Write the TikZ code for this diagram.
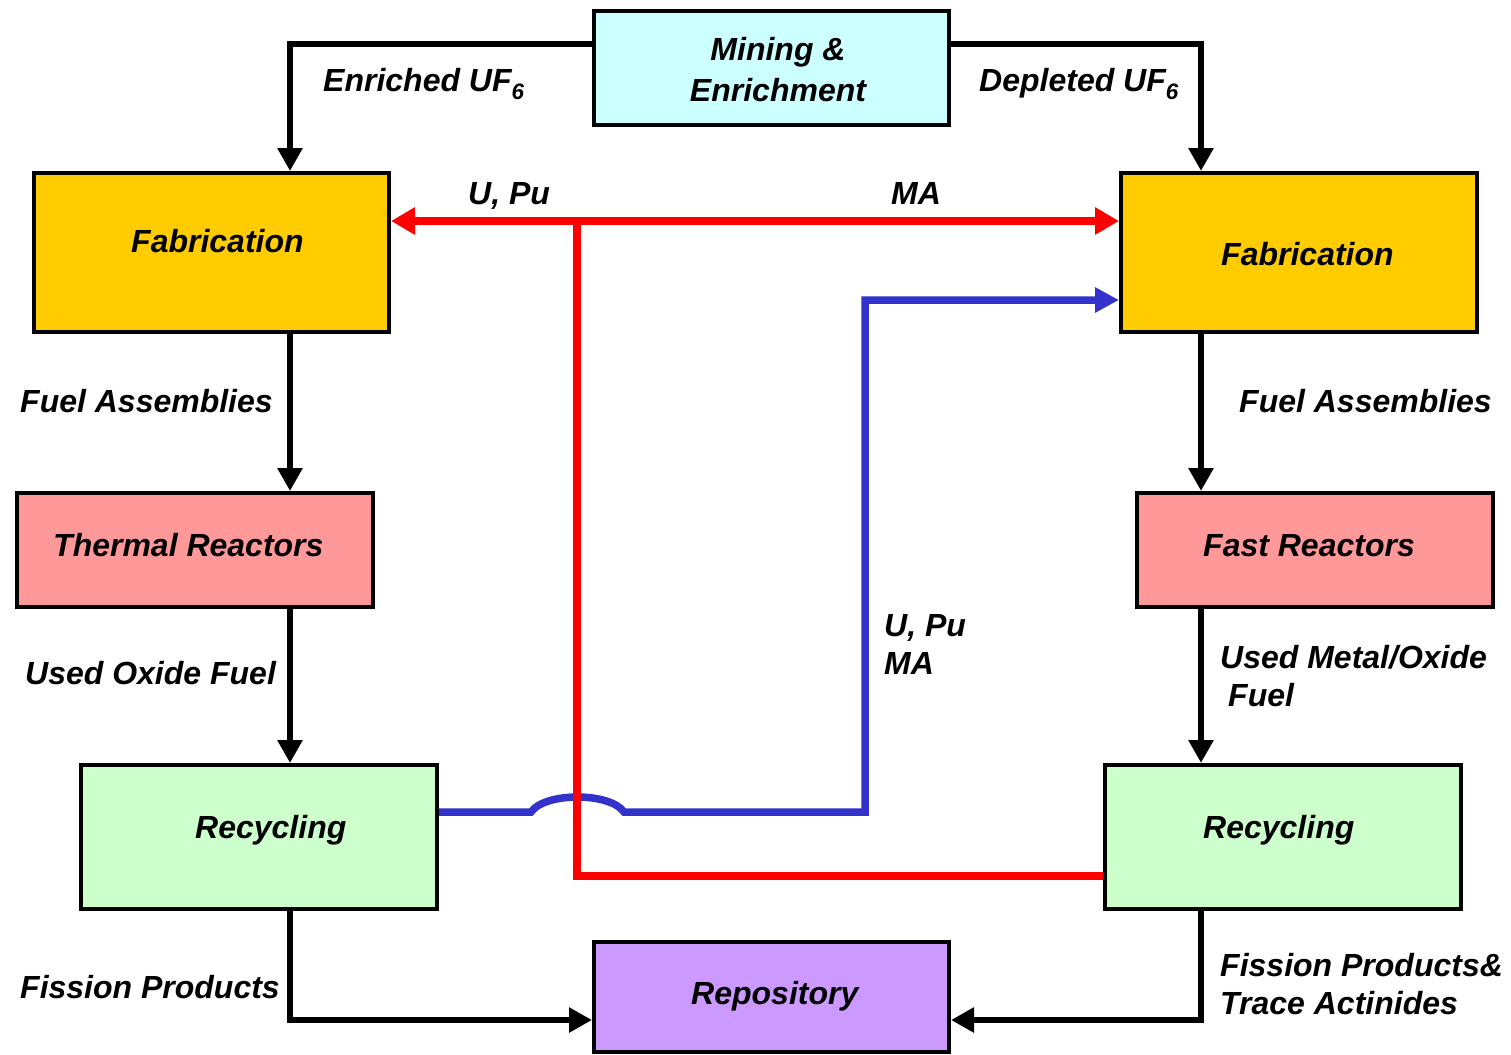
\documentclass[tikz,border=0pt]{standalone}
\usepackage{fontspec}
\setmainfont{Liberation Sans}
\usetikzlibrary{arrows.meta}
\definecolor{cyanfill}{HTML}{CCFFFF}
\definecolor{fabfill}{HTML}{FFCC00}
\definecolor{reactfill}{HTML}{FF9999}
\definecolor{recfill}{HTML}{CCFFCC}
\definecolor{repofill}{HTML}{CC99FF}
\definecolor{flowred}{HTML}{FF0000}
\definecolor{flowblue}{HTML}{3333CC}
\begin{document}
\begin{tikzpicture}[x=1pt,y=-1pt,
  box/.style={draw=black, line width=4pt, inner sep=0pt},
  txt/.style={inner sep=0pt, font=\fontsize{32}{38}\selectfont\bfseries\itshape, align=left},
  blk/.style={line width=6pt, -{Triangle[length=23pt,width=24pt]}},
  redflow/.style={draw=flowred, line width=7.5pt},
  blueflow/.style={draw=flowblue, line width=7.5pt}]
\useasboundingbox (0,0) rectangle (1511,1054);

% boxes
\node[box, fill=cyanfill, minimum width=355pt, minimum height=114pt] (mine) at (771.5,68) {};
\node[box, fill=fabfill, minimum width=355pt, minimum height=159pt] (fabL) at (211.5,252.5) {};
\node[box, fill=fabfill, minimum width=356pt, minimum height=159pt] (fabR) at (1299,252.5) {};
\node[box, fill=reactfill, minimum width=356pt, minimum height=114pt] (therm) at (195,550) {};
\node[box, fill=reactfill, minimum width=356pt, minimum height=114pt] (fast) at (1315,550) {};
\node[box, fill=recfill, minimum width=356pt, minimum height=144pt] (recL) at (259,837) {};
\node[box, fill=recfill, minimum width=356pt, minimum height=144pt] (recR) at (1283,837) {};
\node[box, fill=repofill, minimum width=355pt, minimum height=110pt] (repo) at (771.5,996.5) {};

% box texts
\node[txt, anchor=north, align=center, font=\fontsize{32}{41}\selectfont\bfseries\itshape] (mineT) at (778,37) {Mining \&\\Enrichment};
\node[txt, anchor=base west] (fabLT) at (131,252) {Fabrication};
\node[txt, anchor=base west] (fabRT) at (1221,265) {Fabrication};
\node[txt, anchor=base west] (thermT) at (53,556) {Thermal Reactors};
\node[txt, anchor=base west] (fastT) at (1203,556) {Fast Reactors};
\node[txt, anchor=base west] (recLT) at (195,838) {Recycling};
\node[txt, anchor=base west] (recRT) at (1203,838) {Recycling};
\node[txt, anchor=base west] (repoT) at (691,1004) {Repository};

% helper columns
\coordinate (colL) at (290,0);
\coordinate (colR) at (1201,0);

% black connectors
\draw[blk] ([yshift=24pt]mine.west) -| (fabL.north -| colL);
\draw[blk] ([yshift=24pt]mine.east) -| (fabR.north -| colR);
\draw[blk] (fabL.south -| colL) -- (therm.north -| colL);
\draw[blk] (therm.south -| colL) -- (recL.north -| colL);
\draw[blk] (recL.south -| colL) |- ([yshift=-23.5pt]repo.west);
\draw[blk] (fabR.south -| colR) -- (fast.north -| colR);
\draw[blk] (fast.south -| colR) -- (recR.north -| colR);
\draw[blk] (recR.south -| colR) |- ([yshift=-23.5pt]repo.east);

% blue flow with hop
\coordinate (hopA) at (531,812);
\coordinate (hopB) at (624,812);
\coordinate (bk) at (865,812);
\draw[blueflow, -{Triangle[length=24pt,width=24pt]}] ([yshift=25pt]recL.east) -- (hopA)
  .. controls (545,792) and (610,792) .. (hopB) -- (bk) |- ([yshift=-47.5pt]fabR.west);

% red flow
\coordinate (rj) at (577,221);
\draw[redflow] ([yshift=-39pt]recR.west) -| (rj);
\draw[redflow, {Triangle[length=24pt,width=26pt]}-{Triangle[length=24pt,width=26pt]}] (fabL.east |- rj) -- (fabR.west |- rj);

% labels
\node[txt, anchor=base west] (lEnr) at (323,92) {Enriched UF\textsubscript{6}};
\node[txt, anchor=base west] (lDep) at (979,92) {Depleted UF\textsubscript{6}};
\node[txt, anchor=base west] (lUPu) at (468,204) {U, Pu};
\node[txt, anchor=base west] (lMA) at (891,204) {MA};
\node[txt, anchor=base west] (lFAL) at (20,412) {Fuel Assemblies};
\node[txt, anchor=base west] (lFAR) at (1239,412) {Fuel Assemblies};
\node[txt, anchor=north west] (lUPuMA) at (884,614) {U, Pu\\MA};
\node[txt, anchor=base west] (lUOF) at (25,684) {Used Oxide Fuel};
\node[txt, anchor=north west] (lUMOF) at (1220,645) {Used Metal/Oxide\\\hspace*{8pt}Fuel};
\node[txt, anchor=base west] (lFPL) at (20,998) {Fission Products};
\node[txt, anchor=north west] (lFPR) at (1220,953) {Fission Products\&\\Trace Actinides};
\end{tikzpicture}
\end{document}
